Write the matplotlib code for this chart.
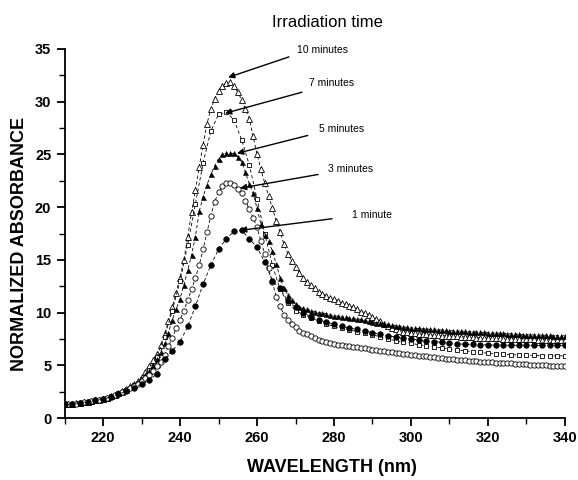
import matplotlib
matplotlib.use("Agg")
import matplotlib.pyplot as plt
from matplotlib.ticker import MultipleLocator

plt.rcParams["font.family"] = ["Liberation Sans", "DejaVu Sans"]

# wavelength grids (nm)
wl_1nm = list(range(210, 341))
wl_2nm = list(range(210, 341, 2))

# 10 minutes - open triangles (1 nm)
abs_10min = [
    1.3, 1.3, 1.35, 1.4, 1.45, 1.5, 1.55, 1.6, 1.7, 1.75,
    1.85, 1.95, 2.05, 2.2, 2.35, 2.55, 2.75, 3.0, 3.2, 3.5,
    3.9, 4.4, 4.9, 5.5, 6.1, 6.9, 8.0, 9.2, 10.5, 11.9,
    13.3, 15.0, 17.2, 19.5, 21.6, 23.8, 25.9, 27.9, 29.3, 30.3,
    31.0, 31.5, 31.8, 31.9, 31.5, 30.9, 30.2, 29.3, 28.4, 26.7,
    25.0, 23.6, 22.3, 21.1, 19.9, 18.7, 17.6, 16.5, 15.6, 14.9,
    14.3, 13.8, 13.3, 12.9, 12.6, 12.3, 12.0, 11.8, 11.6, 11.4,
    11.3, 11.1, 10.9, 10.8, 10.6, 10.5, 10.3, 10.1, 10.0, 9.8,
    9.6, 9.4, 9.2, 8.9, 8.7, 8.5, 8.4, 8.3, 8.2, 8.15,
    8.1, 8.05, 8.0, 7.98, 7.95, 7.9, 7.88, 7.85, 7.82, 7.8,
    7.78, 7.76, 7.74, 7.72, 7.7, 7.68, 7.66, 7.64, 7.62, 7.6,
    7.58, 7.57, 7.56, 7.55, 7.54, 7.53, 7.52, 7.51, 7.5, 7.49,
    7.48, 7.47, 7.46, 7.45, 7.44, 7.43, 7.42, 7.41, 7.4, 7.4, 7.4,
]

# 5 minutes - filled triangles (1 nm)
abs_5min = [
    1.3, 1.32, 1.36, 1.4, 1.45, 1.5, 1.56, 1.62, 1.7, 1.77,
    1.85, 1.95, 2.05, 2.2, 2.35, 2.5, 2.7, 2.95, 3.15, 3.4,
    3.7, 4.1, 4.5, 5.0, 5.6, 6.3, 7.1, 8.1, 9.3, 10.3,
    11.3, 12.6, 14.0, 15.5, 17.2, 19.6, 21.0, 22.1, 23.1, 23.9,
    24.6, 25.0, 25.1, 25.1, 25.1, 24.8, 24.3, 23.3, 22.2, 21.3,
    19.9, 18.4, 17.4, 16.8, 15.8, 14.6, 13.3, 12.3, 11.7, 11.2,
    10.8, 10.5, 10.4, 10.3, 10.2, 10.1, 10.0, 9.95, 9.9, 9.8,
    9.7, 9.65, 9.6, 9.55, 9.5, 9.45, 9.4, 9.35, 9.28, 9.2,
    9.12, 9.05, 9.0, 8.95, 8.88, 8.82, 8.76, 8.7, 8.65, 8.6,
    8.55, 8.52, 8.5, 8.47, 8.45, 8.42, 8.4, 8.37, 8.35, 8.32,
    8.3, 8.28, 8.26, 8.24, 8.22, 8.2, 8.18, 8.16, 8.14, 8.12,
    8.1, 8.08, 8.06, 8.04, 8.02, 8.0, 7.98, 7.96, 7.94, 7.92,
    7.9, 7.89, 7.88, 7.87, 7.86, 7.85, 7.84, 7.83, 7.82, 7.81, 7.8,
]

# 3 minutes - open circles (1 nm)
abs_3min = [
    1.3, 1.3, 1.34, 1.38, 1.43, 1.48, 1.54, 1.6, 1.68, 1.75,
    1.83, 1.92, 2.02, 2.15, 2.3, 2.45, 2.65, 2.85, 3.05, 3.25,
    3.5, 3.8, 4.1, 4.5, 4.9, 5.3, 6.0, 6.8, 7.6, 8.5,
    9.3, 10.2, 11.2, 12.2, 13.3, 14.5, 16.0, 17.6, 19.2, 20.5,
    21.4, 22.0, 22.3, 22.3, 22.1, 21.7, 21.3, 20.6, 19.8, 19.0,
    18.1, 16.8, 15.6, 14.2, 12.9, 11.5, 10.6, 9.8, 9.3, 8.9,
    8.6, 8.3, 8.1, 8.0, 7.8, 7.6, 7.4, 7.3, 7.2, 7.1,
    7.0, 6.95, 6.9, 6.85, 6.8, 6.75, 6.7, 6.65, 6.6, 6.55,
    6.5, 6.45, 6.4, 6.35, 6.3, 6.25, 6.2, 6.15, 6.1, 6.05,
    6.0, 5.96, 5.92, 5.88, 5.84, 5.8, 5.76, 5.72, 5.68, 5.64,
    5.6, 5.57, 5.54, 5.51, 5.48, 5.45, 5.42, 5.39, 5.36, 5.33,
    5.3, 5.28, 5.26, 5.24, 5.22, 5.2, 5.18, 5.16, 5.14, 5.12,
    5.1, 5.08, 5.06, 5.04, 5.02, 5.0, 4.98, 4.96, 4.94, 4.92, 4.9,
]

# 7 minutes - open squares (2 nm)
abs_7min = [
    1.3, 1.35, 1.45, 1.55, 1.7, 1.85, 2.05, 2.35, 2.7, 3.1,
    3.7, 4.6, 5.8, 7.7, 10.2, 13.0, 16.4, 20.3, 24.2, 27.2,
    28.8, 29.0, 28.3, 26.4, 24.0, 20.8, 17.5, 14.5, 12.2, 10.9,
    10.2, 9.8, 9.5, 9.2, 8.9, 8.7, 8.5, 8.35, 8.2, 8.05,
    7.9, 7.7, 7.5, 7.35, 7.2, 7.1, 6.95, 6.85, 6.75, 6.65,
    6.55, 6.45, 6.38, 6.3, 6.22, 6.15, 6.1, 6.05, 6.0, 6.0,
    5.95, 5.95, 5.9, 5.9, 5.9, 5.9,
]

# 1 minute - filled circles (2 nm)
abs_1min = [
    1.3, 1.35, 1.45, 1.55, 1.68, 1.8, 2.0, 2.25, 2.55, 2.85,
    3.2, 3.6, 4.2, 5.6, 6.4, 7.2, 8.7, 10.6, 12.7, 14.5,
    16.0, 17.0, 17.7, 17.8, 17.0, 16.2, 14.8, 13.0, 12.3, 11.1,
    10.5, 10.0, 9.6, 9.3, 9.1, 8.9, 8.7, 8.55, 8.4, 8.25,
    8.1, 7.95, 7.8, 7.7, 7.6, 7.5, 7.4, 7.35, 7.25, 7.2,
    7.1, 7.05, 7.0, 7.0, 6.95, 6.95, 6.9, 6.9, 6.9, 6.9,
    6.9, 6.9, 6.9, 6.9, 6.9, 6.9,
]

labels = ["10 minutes", "7 minutes", "5 minutes", "3 minutes", "1 minute"]
# arrow tip, arrow tail and text anchor, in data units
arrow_tips = [(252.5, 32.3), (251.7, 28.9), (254.8, 25.1), (255.6, 21.8), (255.6, 17.8)]
arrow_tails = [(268.3, 34.25), (271.7, 30.9), (273.2, 26.8), (275.9, 23.1), (279.5, 18.9)]
text_pos = [(270.4, 34.9), (273.5, 31.8), (276.1, 27.4), (278.5, 23.6), (284.7, 19.3)]

fig = plt.figure(figsize=(5.78, 4.8), dpi=100)
ax = fig.add_axes([0.1116, 0.129, 0.8659, 0.769])

dash = (0, (4, 3))
ax.plot(wl_1nm, abs_10min, color="black", lw=0.6, ls=dash, marker="^",
        mfc="white", mec="black", mew=0.6, ms=4)
ax.plot(wl_2nm, abs_7min, color="black", lw=0.6, ls=dash, marker="s",
        mfc="white", mec="black", mew=0.6, ms=3.5)
ax.plot(wl_1nm, abs_5min, color="black", lw=0.6, ls=dash, marker="^",
        mfc="black", mec="black", mew=0.4, ms=3.6)
ax.plot(wl_1nm, abs_3min, color="black", lw=0.6, ls=dash, marker="o",
        mfc="white", mec="black", mew=0.6, ms=3.8)
ax.plot(wl_2nm, abs_1min, color="black", lw=0.6, ls=dash, marker="o",
        mfc="black", mec="black", mew=0.5, ms=4)

for lab, tip, tail, tp in zip(labels, arrow_tips, arrow_tails, text_pos):
    ax.annotate("", xy=tip, xytext=tail,
                arrowprops=dict(arrowstyle="-|>", color="black", lw=1.0,
                                mutation_scale=9, shrinkA=0, shrinkB=0))
    ax.text(tp[0], tp[1], lab, fontsize=7.5, va="center", ha="left")

fig.text(0.567, 0.954, "Irradiation time", fontsize=12, ha="center", va="center")

ax.set_xlim(210, 340)
ax.set_ylim(0, 35)
ax.xaxis.set_major_locator(MultipleLocator(20))
ax.xaxis.set_minor_locator(MultipleLocator(10))
ax.yaxis.set_major_locator(MultipleLocator(5))
ax.yaxis.set_minor_locator(MultipleLocator(2.5))
ax.spines["top"].set_visible(False)
ax.spines["right"].set_visible(False)
ax.spines["left"].set_linewidth(1.3)
ax.spines["bottom"].set_linewidth(1.3)
ax.tick_params(which="major", length=6, width=1.3, direction="out", labelsize=10.5)
ax.tick_params(which="minor", length=4, width=1.0, direction="out")
for t in ax.get_xticklabels() + ax.get_yticklabels():
    t.set_fontweight("bold")

ax.set_xlabel("WAVELENGTH (nm)", fontsize=13, fontweight="bold", va="center")
ax.set_ylabel("NORMALIZED ABSORBANCE", fontsize=13, fontweight="bold", va="center")
ax.xaxis.set_label_coords(0.535, -0.133)
ax.yaxis.set_label_coords(-0.089, 0.471)

fig.savefig("out.png", dpi=100)
